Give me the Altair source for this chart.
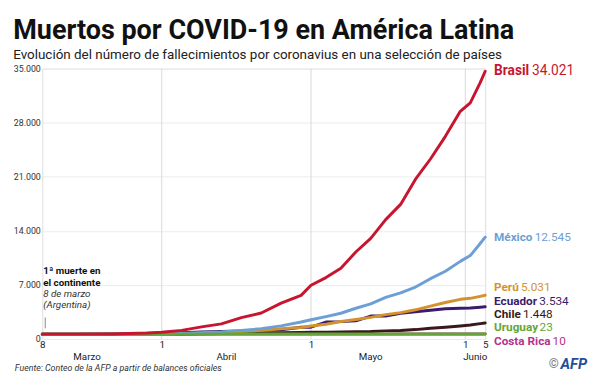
import altair as alt
import pandas as pd

# ---------------- data ----------------
dates = ["2020-03-08", "2020-03-15", "2020-03-22", "2020-03-29", "2020-04-01",
         "2020-04-05", "2020-04-09", "2020-04-13", "2020-04-17", "2020-04-21",
         "2020-04-25", "2020-04-29", "2020-05-01", "2020-05-04", "2020-05-07",
         "2020-05-10", "2020-05-13", "2020-05-16", "2020-05-19", "2020-05-22",
         "2020-05-25", "2020-05-28", "2020-05-31", "2020-06-02", "2020-06-04",
         "2020-06-05"]

brasil = [0, 0, 25, 136, 240, 486, 941, 1328, 2141, 2741, 4016, 5017, 6329, 7321,
          8536, 10627, 12400, 14817, 16792, 20047, 22666, 25598, 28834, 29937,
          32548, 34021]
mexico = [0, 0, 2, 16, 29, 94, 174, 296, 486, 712, 1069, 1569, 1859, 2271, 2704,
          3353, 3926, 4767, 5332, 6090, 7179, 8134, 9415, 10167, 11729, 12545]
peru = [0, 0, 3, 9, 30, 73, 121, 216, 348, 484, 700, 854, 1051, 1286, 1627, 1889,
        2169, 2523, 2789, 3148, 3629, 4099, 4506, 4634, 4894, 5031]
ecuador = [0, 0, 7, 41, 79, 180, 272, 355, 421, 520, 576, 883, 900, 1564, 1618,
           1717, 2338, 2338, 2688, 2888, 3096, 3275, 3358, 3394, 3486, 3534]
chile = [0, 0, 1, 3, 12, 27, 57, 82, 105, 139, 181, 216, 234, 260, 285, 304, 335,
         421, 478, 589, 761, 890, 1054, 1188, 1356, 1448]
uruguay = [0, 0, 0, 1, 1, 4, 4, 7, 7, 10, 10, 17, 17, 17, 18, 19, 19, 19, 20, 20,
           22, 22, 22, 22, 23, 23]
costa_rica = [0, 0, 0, 1, 2, 2, 3, 3, 4, 6, 6, 6, 6, 6, 6, 6, 6, 6, 7, 7, 7, 7, 8,
              10, 10, 10]

# drawing order (bottom to top)
countries = ["Costa Rica", "Chile", "Ecuador", "Perú", "México", "Uruguay", "Brasil"]
series = [costa_rica, chile, ecuador, peru, mexico, uruguay, brasil]
colors = ["#b5328f", "#3a1820", "#3b1b6b", "#d3922e", "#6c9fd6", "#63a637", "#c8152f"]

y_ticks = [0, 7000, 14000, 21000, 28000, 35000]
month_names = ["Marzo", "Abril", "Mayo", "Junio"]
month_label_dates = ["2020-03-17", "2020-04-14", "2020-05-13", "2020-06-03"]
month_starts = ["2020-04-01", "2020-05-01", "2020-06-01"]

# ---------------- layout constants ----------------
W, H = 452, 276
YMAX = 35000
FONT = "Roboto, sans-serif"
TXT = "#222222"

rows = []
for c, s in zip(countries, series):
    for d, v in zip(dates, s):
        rows.append({"date": d, "country": c, "value": v})
df = pd.DataFrame(rows)


def dt(m, d):
    return alt.DateTime(year=2020, month=m, date=d, utc=True)


x_scale = alt.Scale(type="utc", domain=[dt(3, 8), dt(6, 5)])
y_scale = alt.Scale(domain=[0, YMAX], nice=False)

x_axis = alt.Axis(
    values=[dt(3, 8), dt(4, 1), dt(5, 1), dt(6, 1), dt(6, 5)],
    format="%-d", grid=False, domain=False, ticks=False, labelPadding=1,
    labelFont=FONT, labelFontSize=10, labelColor=TXT, labelFlush=False,
    title=None)
y_axis = alt.Axis(
    values=y_ticks, grid=True, gridColor="#ececec", gridWidth=1, domain=False,
    ticks=False, labelPadding=2, labelFont=FONT, labelFontSize=9,
    labelColor="#333333", title=None,
    labelExpr="replace(format(datum.value, ','), ',', '.')")

X = alt.X("date:T", scale=x_scale, axis=x_axis)
Y = alt.Y("value:Q", scale=y_scale, axis=y_axis)

layers = []

# vertical month gridlines
vg = pd.DataFrame({"date": month_starts})
layers.append(alt.Chart(vg).mark_rule(color="#d9d9d9", strokeWidth=1).encode(x=X))

# lines
for c, col in zip(countries, colors):
    ch = alt.Chart(df).transform_filter(alt.datum.country == c).mark_line(
        color=col, strokeWidth=3, yOffset=-5, strokeCap="round",
        strokeJoin="round").encode(x=X, y=Y)
    layers.append(ch)

# ---------------- end labels (dodged) ----------------
# approximate Roboto Bold advance widths (em)
bold_w = {"B": .625, "r": .347, "a": .53, "s": .51, "i": .255, "l": .255,
          "M": .859, "é": .523, "x": .498, "c": .516, "o": .554, "P": .629,
          "e": .523, "ú": .544, "E": .553, "u": .544, "d": .55, "C": .647,
          "h": .544, "U": .63, "g": .55, "y": .483, "t": .33, "R": .612,
          " ": .245}


def text_w(s, size):
    return sum(bold_w.get(ch, .55) for ch in s) * size


last = {c: s[-1] for c, s in zip(countries, series)}
col_of = dict(zip(countries, colors))
order = sorted(countries, key=lambda c: last[c])
lab_rows = []
prev = None
for c in order:
    target = H - last[c] * H / YMAX - 5
    py = H + 2 if prev is None else min(target, prev - 13.75)
    prev = py
    fs = 14 if c == "Brasil" else 12
    nx = W + 9
    val = f"{last[c]:,}".replace(",", ".")
    lab_rows.append({"name": c, "val": val, "py": py, "nx": nx,
                     "vx": nx + text_w(c, fs) + 0.25 * fs, "fs": fs,
                     "col": col_of[c]})
lab = pd.DataFrame(lab_rows)

layers.append(alt.Chart(lab).mark_text(
    align="left", baseline="middle", font=FONT, fontWeight="bold").encode(
    x=alt.X("nx:Q", scale=None, axis=None), y=alt.Y("py:Q", scale=None, axis=None),
    text="name:N", size=alt.Size("fs:Q", scale=None, legend=None),
    color=alt.Color("col:N", scale=None, legend=None)))
layers.append(alt.Chart(lab).mark_text(
    align="left", baseline="middle", font=FONT, fontWeight="normal").encode(
    x=alt.X("vx:Q", scale=None, axis=None), y=alt.Y("py:Q", scale=None, axis=None),
    text="val:N", size=alt.Size("fs:Q", scale=None, legend=None),
    color=alt.Color("col:N", scale=None, legend=None)))

# month labels
ml = pd.DataFrame({"date": month_label_dates, "m": month_names})
layers.append(alt.Chart(ml).mark_text(
    font=FONT, fontSize=10, color=TXT, baseline="middle", align="center").encode(
    x=X, y=alt.value(H + 18.5), text="m:N"))

# annotation: first death
ann = pd.DataFrame({
    "date": ["2020-03-08"] * 4,
    "t": ["1ª muerte en", "el continente", "8 de marzo", "(Argentina)"],
})
for k in range(4):
    mk = dict(font=FONT, fontSize=10, align="left", baseline="middle", dx=1)
    if k < 2:
        mk.update(fontWeight="bold", color="#111111")
    else:
        mk.update(fontStyle="italic", color="#333333")
    layers.append(alt.Chart(ann.iloc[[k]]).mark_text(**mk).encode(
        x=X, y=alt.value(207 + 11.5 * k), text="t:N"))
layers.append(alt.Chart(ann.iloc[[0]]).mark_rule(
    color="#888888", strokeWidth=1, xOffset=3).encode(
    x=X, y=alt.value(254), y2=alt.value(265)))

# footer & logo
layers.append(alt.Chart(pd.DataFrame({"t": ["Fuente: Conteo de la AFP a partir de balances oficiales"]})).mark_text(
    font=FONT, fontSize=9, fontStyle="italic", color="#333333",
    align="left", baseline="middle").encode(
    x=alt.value(-28), y=alt.value(H + 30), text="t:N"))
layers.append(alt.Chart(pd.DataFrame({"t": ["©"]})).mark_text(
    font=FONT, fontSize=13, color="#777777", align="center",
    baseline="middle").encode(x=alt.value(522), y=alt.value(H + 26), text="t:N"))
layers.append(alt.Chart(pd.DataFrame({"t": ["AFP"]})).mark_text(
    font=FONT, fontSize=15, fontWeight="bold", fontStyle="italic",
    color="#1f4f9c", align="right", baseline="middle").encode(
    x=alt.value(556), y=alt.value(H + 26), text="t:N"))

chart = alt.layer(*layers).properties(
    width=W, height=H,
    title=alt.TitleParams(
        text="Muertos por COVID-19 en América Latina",
        subtitle="Evolución del número de fallecimientos por coronavius en una selección de países",
        anchor="start", frame="bounds", font=FONT, fontSize=27.5,
        fontWeight="bold", color="#111111", subtitleFont=FONT,
        subtitleFontSize=13.7, subtitleColor="#222222", subtitlePadding=4,
        offset=3)
).configure_view(stroke=None).configure(background="white")

chart.save("out.html", embed_options={"renderer": "svg", "actions": False})
